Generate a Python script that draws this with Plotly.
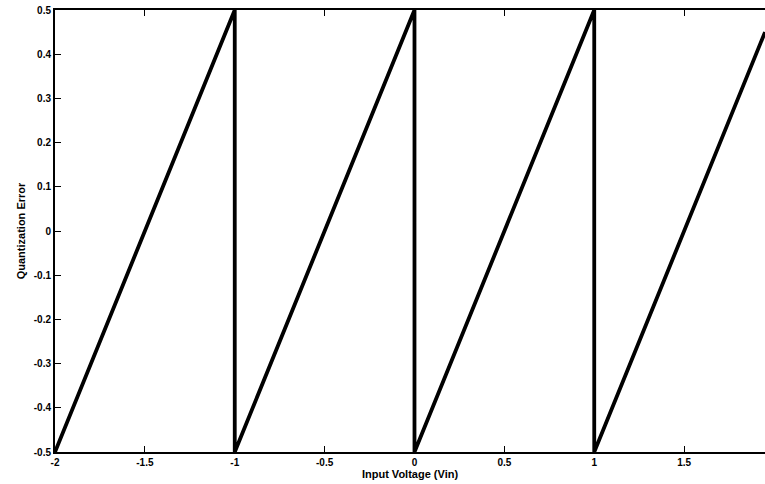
import plotly.graph_objects as go

# Quantization error of an ideal rounding quantizer (1 V step) vs. input voltage
vin = [-2.0, -1.0, -1.0, 0.0, 0.0, 1.0, 1.0, 1.95]
qerr = [-0.5, 0.5, -0.5, 0.5, -0.5, 0.5, -0.5, 0.45]

x_ticks = [-2, -1.5, -1, -0.5, 0, 0.5, 1, 1.5]
x_labels = ["-2", "-1.5", "-1", "-0.5", "0", "0.5", "1", "1.5"]
y_ticks = [-0.5, -0.4, -0.3, -0.2, -0.1, 0, 0.1, 0.2, 0.3, 0.4, 0.5]
y_labels = ["-0.5", "-0.4", "-0.3", "-0.2", "-0.1", "0", "0.1", "0.2", "0.3", "0.4", "0.5"]

fig = go.Figure()
fig.add_trace(go.Scatter(
    x=vin, y=qerr, mode="lines",
    line=dict(color="black", width=3.8),
    showlegend=False, hoverinfo="skip",
))

tick_font = dict(family="Liberation Sans, Arial, sans-serif", size=10, color="black")
title_font = dict(family="Liberation Sans, Arial, sans-serif", size=11, color="black")

fig.update_layout(
    width=765, height=484,
    margin=dict(l=55, r=0, t=10, b=32),
    paper_bgcolor="white", plot_bgcolor="white",
    font=tick_font,
    xaxis=dict(
        range=[-2, 1.95],
        tickvals=x_ticks, ticktext=[f"<b>{t}</b>" for t in x_labels],
        ticks="inside", ticklen=6, tickwidth=1.2, tickcolor="black",
        showline=True, linecolor="black", linewidth=2, mirror="ticks",
        showgrid=False, zeroline=False,
        tickfont=tick_font,
        title=dict(text="<b>Input Voltage (Vin)</b>", font=title_font, standoff=1),
    ),
    yaxis=dict(
        range=[-0.5, 0.5],
        tickvals=y_ticks, ticktext=[f"<b>{t}</b>" for t in y_labels],
        ticks="inside", ticklen=6, tickwidth=1.2, tickcolor="black",
        showline=True, linecolor="black", linewidth=2, mirror=False,
        showgrid=False, zeroline=False,
        tickfont=tick_font,
        title=dict(text="<b>Quantization Error</b>", font=title_font, standoff=6),
    ),
)

fig.write_html("out.html")
